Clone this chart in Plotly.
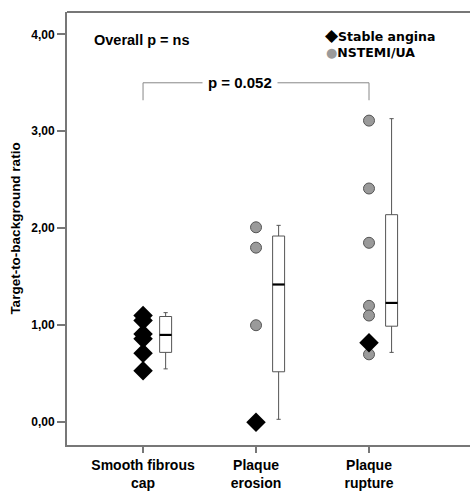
import plotly.graph_objects as go

# ---- data ----
categories = ["Smooth fibrous<br>cap", "Plaque<br>erosion", "Plaque<br>rupture"]
cat_index = [0, 1, 2]

stable_cat = [0, 0, 0, 0, 0, 0, 1, 2]
stable_val = [1.10, 1.05, 0.91, 0.86, 0.71, 0.53, 0.00, 0.82]

nstemi_cat = [1, 1, 1, 2, 2, 2, 2, 2, 2]
nstemi_val = [2.01, 1.80, 1.00, 3.11, 2.41, 1.85, 1.20, 1.10, 0.70]

box_q1 = [0.72, 0.52, 0.99]
box_median = [0.90, 1.42, 1.23]
box_q3 = [1.09, 1.92, 2.14]
box_low = [0.55, 0.03, 0.72]
box_high = [1.13, 2.03, 3.13]

y_ticks = [0, 1, 2, 3, 4]
y_ticktext = ["0,00", "1,00", "2,00", "3,00", "4,00"]

# ---- styling ----
BOX_OFFSET = 0.2
BOX_W = 0.106
AXIS_COL = "#777777"

box_pos = [c + BOX_OFFSET for c in cat_index]

fig = go.Figure()

fig.add_trace(go.Box(
    x=box_pos, q1=box_q1, median=box_median, q3=box_q3,
    lowerfence=box_low, upperfence=box_high,
    width=BOX_W, whiskerwidth=0.35,
    fillcolor="white", line=dict(color="#555555", width=1),
    boxpoints=False, showlegend=False, hoverinfo="skip",
))

# thick black median lines
mx, my = [], []
for p, m in zip(box_pos, box_median):
    mx += [p - BOX_W / 2, p + BOX_W / 2, None]
    my += [m, m, None]
fig.add_trace(go.Scatter(x=mx, y=my, mode="lines",
                         line=dict(color="black", width=2.2),
                         showlegend=False, hoverinfo="skip"))

fig.add_trace(go.Scatter(
    x=nstemi_cat, y=nstemi_val, mode="markers", name="NSTEMI/UA",
    marker=dict(symbol="circle", size=11, color="#9a9a9a",
                line=dict(color="#555555", width=1)),
    showlegend=False))

fig.add_trace(go.Scatter(
    x=stable_cat, y=stable_val, mode="markers", name="Stable angina",
    marker=dict(symbol="diamond", size=15, color="black",
                line=dict(color="black", width=0)),
    showlegend=False))

# bracket
bc = "#888888"
fig.add_shape(type="line", x0=0, x1=2, y0=3.50, y1=3.50, xref="x", yref="y",
              line=dict(color=bc, width=1))
fig.add_shape(type="line", x0=0, x1=0, y0=3.50, y1=3.32, xref="x", yref="y",
              line=dict(color=bc, width=1))
fig.add_shape(type="line", x0=2, x1=2, y0=3.50, y1=3.32, xref="x", yref="y",
              line=dict(color=bc, width=1))
fig.add_annotation(x=0.86, y=3.50, xref="x", yref="y", text="<b>p = 0.052</b>",
                   showarrow=False, bgcolor="white", borderpad=5,
                   font=dict(family="Liberation Sans", size=15, color="black"))

# top frame line
fig.add_shape(type="line", x0=0, x1=1, y0=1, y1=1, xref="paper", yref="paper",
              line=dict(color=AXIS_COL, width=2))

fig.add_annotation(x=(92 - 67) / 403, y=(445 - 40) / 433, xref="paper", yref="paper",
                   xanchor="left", yanchor="middle", showarrow=False,
                   text="<b>Overall p = ns</b>",
                   font=dict(family="Liberation Sans", size=14.5, color="black"))

# legend as text
fig.add_annotation(x=(323 - 67) / 403, y=(445 - 35) / 433, xref="paper", yref="paper",
                   xanchor="left", yanchor="middle", showarrow=False,
                   text="<b><span style='font-size:17px'>◆</span>Stable angina</b>",
                   font=dict(family="DejaVu Sans", size=12.5, color="black"))
fig.add_annotation(x=(324 - 67) / 403, y=(445 - 52) / 433, xref="paper", yref="paper",
                   xanchor="left", yanchor="middle", showarrow=False,
                   text="<b><span style='color:#9a9a9a;font-size:13px'>●</span>NSTEMI/UA</b>",
                   font=dict(family="DejaVu Sans", size=12.5, color="black"))

fig.update_layout(
    width=470, height=495,
    margin=dict(l=67, r=0, t=12, b=50),
    plot_bgcolor="white", paper_bgcolor="white",
    showlegend=False,
    xaxis=dict(
        range=[-0.673, 2.894], tickvals=cat_index, ticktext=[f"<b>{c}</b>" for c in categories],
        showgrid=False, zeroline=False, showline=True, linecolor=AXIS_COL, linewidth=2,
        ticks="outside", ticklen=6, tickcolor=AXIS_COL, tickwidth=1.5,
        tickfont=dict(family="Liberation Sans", size=14, color="black"),
        automargin=False,
    ),
    yaxis=dict(
        range=[-0.235, 4.23], tickvals=y_ticks, ticktext=[f"<b>{t}</b>" for t in y_ticktext],
        showgrid=False, zeroline=False, showline=True, linecolor=AXIS_COL, linewidth=2,
        ticks="outside", ticklen=8, tickcolor=AXIS_COL, tickwidth=1.5,
        tickfont=dict(family="Liberation Sans", size=12, color="black"),
        title=dict(text="<b>Target-to-background ratio</b>", standoff=8,
                   font=dict(family="Liberation Sans", size=13.5, color="black")),
        automargin=False,
    ),
)

fig.write_html("out.html",
               config={"displayModeBar": False},
               post_script=("document.body.style.margin='0';"
                            "document.body.style.overflow='hidden';"
                            "document.documentElement.style.overflow='hidden';"))
